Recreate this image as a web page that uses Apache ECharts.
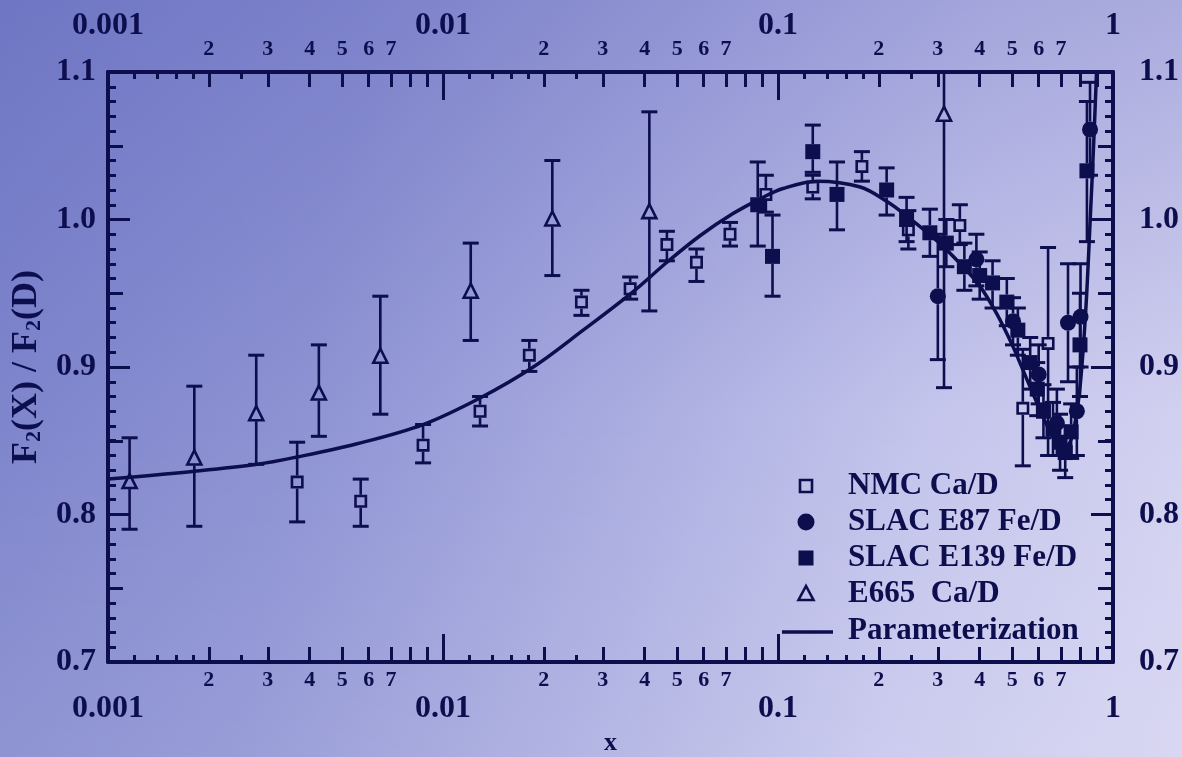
<!DOCTYPE html>
<html>
<head>
<meta charset="utf-8">
<script src="https://cdn.jsdelivr.net/npm/echarts@6/dist/echarts.min.js"></script>
<style>
  html, body { margin: 0; padding: 0; width: 1182px; height: 757px; overflow: hidden; }
  body {
    background:
      linear-gradient(180deg, rgba(80,86,178,0.28) 0%, rgba(80,86,178,0.0) 55%, rgba(255,255,255,0.10) 100%),
      linear-gradient(100deg, #7b82ca 0%, #8d92d3 28%, #a8abdf 52%, #c4c5ec 76%, #d5d3f1 100%);
  }
  #chart { width: 1182px; height: 757px; }
</style>
</head>
<body>
<div id="chart"></div>
<script>
// ---- data: [x, ratio, lower error, upper error] ----
const nmcCaD = [
  [0.00367, 0.822, 0.795, 0.849],
  [0.00568, 0.809, 0.792, 0.824],
  [0.00872, 0.847, 0.835, 0.861],
  [0.0129, 0.870, 0.860, 0.880],
  [0.0181, 0.908, 0.897, 0.918],
  [0.0259, 0.944, 0.935, 0.952],
  [0.0362, 0.953, 0.946, 0.961],
  [0.0466, 0.983, 0.972, 0.992],
  [0.0571, 0.971, 0.958, 0.980],
  [0.0719, 0.990, 0.982, 0.998],
  [0.092, 1.017, 1.005, 1.030],
  [0.127, 1.022, 1.014, 1.030],
  [0.178, 1.036, 1.026, 1.046],
  [0.245, 0.993, 0.980, 1.006],
  [0.349, 0.996, 0.983, 1.010],
  [0.538, 0.872, 0.833, 0.912],
  [0.640, 0.916, 0.840, 0.981]
];

const slacE87FeD = [
  [0.300, 0.948, 0.905, 0.990],
  [0.391, 0.973, 0.955, 0.990],
  [0.503, 0.931, 0.915, 0.947],
  [0.600, 0.895, 0.875, 0.915],
  [0.680, 0.862, 0.840, 0.885],
  [0.734, 0.930, 0.890, 0.970],
  [0.780, 0.870, 0.840, 0.900],
  [0.800, 0.934, 0.900, 0.970],
  [0.854, 1.061, 1.030, 1.093]
];

const slacE139FeD = [
  [0.087, 1.010, 0.982, 1.039],
  [0.0963, 0.975, 0.948, 1.003],
  [0.127, 1.046, 1.032, 1.064],
  [0.150, 1.017, 0.993, 1.039],
  [0.211, 1.020, 1.003, 1.035],
  [0.242, 1.000, 0.985, 1.015],
  [0.284, 0.991, 0.975, 1.007],
  [0.318, 0.984, 0.968, 1.000],
  [0.360, 0.968, 0.952, 0.984],
  [0.400, 0.962, 0.946, 0.978],
  [0.437, 0.957, 0.940, 0.972],
  [0.482, 0.944, 0.928, 0.960],
  [0.520, 0.925, 0.908, 0.940],
  [0.566, 0.903, 0.885, 0.920],
  [0.594, 0.885, 0.867, 0.903],
  [0.620, 0.870, 0.852, 0.888],
  [0.662, 0.858, 0.840, 0.876],
  [0.695, 0.849, 0.830, 0.868],
  [0.720, 0.842, 0.825, 0.860],
  [0.750, 0.856, 0.838, 0.875],
  [0.797, 0.915, 0.880, 0.950],
  [0.836, 1.033, 0.985, 1.080]
];

const e665CaD = [
  [0.00116, 0.822, 0.790, 0.852],
  [0.00181, 0.838, 0.792, 0.887],
  [0.00277, 0.868, 0.834, 0.908],
  [0.00426, 0.882, 0.853, 0.915],
  [0.00650, 0.907, 0.868, 0.948],
  [0.0121, 0.951, 0.918, 0.984],
  [0.0212, 1.000, 0.962, 1.040],
  [0.0413, 1.005, 0.938, 1.073],
  [0.313, 1.071, 0.886, 1.160]
];

// parameterization curve [x, ratio]
const parameterization = [
  [0.001, 0.824], [0.00176, 0.829], [0.00279, 0.834], [0.00367, 0.839],
  [0.00554, 0.848], [0.00872, 0.861], [0.0129, 0.879], [0.0186, 0.900],
  [0.0262, 0.925], [0.0369, 0.951], [0.0466, 0.971], [0.0585, 0.989],
  [0.0734, 1.004], [0.0884, 1.014], [0.1035, 1.021], [0.131, 1.026],
  [0.176, 1.022], [0.212, 1.012], [0.237, 1.004], [0.30, 0.985],
  [0.35, 0.970], [0.40, 0.955], [0.45, 0.936], [0.50, 0.915],
  [0.55, 0.893], [0.60, 0.873], [0.65, 0.856], [0.70, 0.846],
  [0.74, 0.848], [0.77, 0.862], [0.80, 0.890], [0.83, 0.940],
  [0.855, 1.000], [0.875, 1.050], [0.893, 1.100]
];

// ---- axis tick labels ----
const decadeStarts = [0.001, 0.01, 0.1];
const digitLabels = [2, 3, 4, 5, 6, 7];
const digitTicks = [2, 3, 4, 5, 6, 7, 8, 9];
const fineTicks = [1.2, 1.4, 1.6, 1.8, 2.5];
const yMin = 0.7, yMax = 1.1;

const INK = '#0d0e4e';
const SERIF = '"Liberation Serif", "Times New Roman", serif';

const logPositions = (mults) =>
  decadeStarts.flatMap(d => mults.map(m => Math.log10(m * d)));

const digitTickPos = logPositions(digitTicks);
const digitLabelPos = logPositions(digitLabels);
const fineTickPos = logPositions(fineTicks);

const digitFormatter = v => String(Math.round(Math.pow(10, v - Math.floor(v + 1e-9))));
const decadeFormatter = v => String(Number(v.toPrecision(3)));

// ---- marker drawing with error bars ----
const HALF = { openSquare: 6.5, filledSquare: 7.5, circle: 8, triangle: 7 };

function renderPoint(shape) {
  return function (params, api) {
    const x = api.value(0), y = api.value(1), lo = api.value(2), hi = api.value(3);
    const c = api.coord([x, y]);
    const pLo = api.coord([x, lo]);
    const pHi = api.coord([x, hi]);
    const cs = params.coordSys;
    const top = cs.y, bottom = cs.y + cs.height;
    const h = HALF[shape];
    const cap = 8;
    const lineStyle = { stroke: INK, lineWidth: 2.6 };
    let yHi = pHi[1], yLo = pLo[1];
    const hiClip = yHi < top, loClip = yLo > bottom;
    if (hiClip) yHi = top;
    if (loClip) yLo = bottom;
    const children = [];
    if (yHi < c[1] - h) {
      children.push({ type: 'line', shape: { x1: c[0], y1: yHi, x2: c[0], y2: c[1] - h }, style: lineStyle });
    }
    if (yLo > c[1] + h) {
      children.push({ type: 'line', shape: { x1: c[0], y1: c[1] + h, x2: c[0], y2: yLo }, style: lineStyle });
    }
    if (!hiClip) {
      children.push({ type: 'line', shape: { x1: c[0] - cap, y1: yHi, x2: c[0] + cap, y2: yHi }, style: { stroke: INK, lineWidth: 3 } });
    }
    if (!loClip) {
      children.push({ type: 'line', shape: { x1: c[0] - cap, y1: yLo, x2: c[0] + cap, y2: yLo }, style: { stroke: INK, lineWidth: 3 } });
    }
    if (shape === 'openSquare') {
      children.push({ type: 'rect', shape: { x: c[0] - h + 1.3, y: c[1] - h + 1.3, width: 2 * h - 2.6, height: 2 * h - 2.6 },
        style: { fill: 'none', stroke: INK, lineWidth: 2.6 } });
    } else if (shape === 'filledSquare') {
      children.push({ type: 'rect', shape: { x: c[0] - h, y: c[1] - h, width: 2 * h, height: 2 * h }, style: { fill: INK } });
    } else if (shape === 'circle') {
      children.push({ type: 'circle', shape: { cx: c[0], cy: c[1], r: h }, style: { fill: INK } });
    } else if (shape === 'triangle') {
      children.push({ type: 'polygon', shape: { points: [[c[0], c[1] - h - 1], [c[0] - h, c[1] + h - 1], [c[0] + h, c[1] + h - 1]] },
        style: { fill: 'none', stroke: INK, lineWidth: 2.6, lineJoin: 'miter' } });
    }
    return { type: 'group', children };
  };
}

function pointSeries(name, data, shape) {
  return {
    name, type: 'custom', xAxisIndex: 0, yAxisIndex: 0,
    renderItem: renderPoint(shape),
    encode: { x: 0, y: [1, 2, 3] },
    data, z: 3, silent: true, animation: false
  };
}

// ---- axes ----
const labelFont = { fontFamily: SERIF, fontWeight: 'bold', color: INK };

function decadeAxis(position, margin) {
  return {
    type: 'log', logBase: 10, min: 0.001, max: 1, position,
    axisLine: { show: true, onZero: false, lineStyle: { color: INK, width: 4 } },
    axisTick: { show: true, inside: true, length: 28, lineStyle: { color: INK, width: 3 } },
    axisLabel: { ...labelFont, fontSize: 32, margin, formatter: decadeFormatter, showMinLabel: true, showMaxLabel: true },
    splitLine: { show: false }, minorTick: { show: false }, minorSplitLine: { show: false }
  };
}

function digitAxis(position, margin) {
  return {
    type: 'value', min: -3, max: 0, position,
    axisLine: { show: false, onZero: false },
    axisTick: { show: true, inside: true, length: 15, customValues: digitTickPos, lineStyle: { color: INK, width: 3 } },
    axisLabel: { ...labelFont, fontSize: 22, margin, customValues: digitLabelPos, formatter: digitFormatter },
    splitLine: { show: false }
  };
}

function fineAxis(position) {
  return {
    type: 'value', min: -3, max: 0, position,
    axisLine: { show: false, onZero: false },
    axisTick: { show: true, inside: true, length: 7, customValues: fineTickPos, lineStyle: { color: INK, width: 3 } },
    axisLabel: { show: false },
    splitLine: { show: false }
  };
}

function ratioAxis(position, margin) {
  return {
    type: 'value', min: yMin, max: yMax, interval: 0.1, position,
    axisLine: { show: true, onZero: false, lineStyle: { color: INK, width: 4 } },
    axisTick: { show: true, inside: true, length: 22, lineStyle: { color: INK, width: 3 } },
    minorTick: { show: true, splitNumber: 10, length: 8, lineStyle: { color: INK, width: 3 } },
    axisLabel: { ...labelFont, fontSize: 32, margin, formatter: v => v.toFixed(1), showMinLabel: true, showMaxLabel: true },
    splitLine: { show: false }, minorSplitLine: { show: false }
  };
}

function halfStepAxis(position) {
  return {
    type: 'value', min: yMin, max: yMax, interval: 0.05, position,
    axisLine: { show: false, onZero: false },
    axisTick: { show: true, inside: true, length: 15, lineStyle: { color: INK, width: 3 } },
    axisLabel: { show: false },
    splitLine: { show: false }
  };
}

const bottomDecade = decadeAxis('bottom', 31);
bottomDecade.name = 'x';
bottomDecade.nameLocation = 'middle';
bottomDecade.nameGap = 66;
bottomDecade.nameTextStyle = { ...labelFont, fontSize: 26 };

const leftRatio = ratioAxis('left', 12);
leftRatio.name = 'F{s|2}(X) / F{s|2}(D)';
leftRatio.nameLocation = 'middle';
leftRatio.nameGap = 60;
leftRatio.nameTextStyle = {
  ...labelFont, fontSize: 36,
  rich: { s: { fontFamily: SERIF, fontWeight: 'bold', color: INK, fontSize: 22, verticalAlign: 'bottom', padding: [13, 0, 0, 0] } }
};

const option = {
  animation: false,
  backgroundColor: 'transparent',
  grid: { left: 108, right: 69, top: 72, bottom: 95, containLabel: false, outerBoundsMode: 'none' },
  xAxis: [
    bottomDecade,
    digitAxis('bottom', 7),
    fineAxis('bottom'),
    decadeAxis('top', 30),
    digitAxis('top', 12),
    fineAxis('top')
  ],
  yAxis: [
    leftRatio,
    halfStepAxis('left'),
    ratioAxis('right', 26),
    halfStepAxis('right')
  ],
  series: [
    {
      name: 'Parameterization', type: 'line', xAxisIndex: 0, yAxisIndex: 0,
      data: parameterization, showSymbol: false, symbol: 'none',
      smooth: 0.35, lineStyle: { color: INK, width: 3.5 }, z: 2, silent: true, animation: false
    },
    pointSeries('E665  Ca/D', e665CaD, 'triangle'),
    pointSeries('NMC Ca/D', nmcCaD, 'openSquare'),
    pointSeries('SLAC E139 Fe/D', slacE139FeD, 'filledSquare'),
    pointSeries('SLAC E87 Fe/D', slacE87FeD, 'circle')
  ],
  graphic: []
};

// ---- legend key ----
const legendRows = [
  { text: 'NMC Ca/D', y: 486, mark: 'openSquare' },
  { text: 'SLAC E87 Fe/D', y: 522, mark: 'circle' },
  { text: 'SLAC E139 Fe/D', y: 558, mark: 'filledSquare' },
  { text: 'E665  Ca/D', y: 594, mark: 'triangle' },
  { text: 'Parameterization', y: 631, mark: 'line' }
];
const keyX = 806, textX = 848;
legendRows.forEach(r => {
  let el;
  if (r.mark === 'openSquare') {
    el = { type: 'rect', shape: { x: keyX - 6, y: r.y - 6, width: 12, height: 12 }, style: { fill: 'none', stroke: INK, lineWidth: 2.6 } };
  } else if (r.mark === 'circle') {
    el = { type: 'circle', shape: { cx: keyX, cy: r.y, r: 8.5 }, style: { fill: INK } };
  } else if (r.mark === 'filledSquare') {
    el = { type: 'rect', shape: { x: keyX - 7.5, y: r.y - 7.5, width: 15, height: 15 }, style: { fill: INK } };
  } else if (r.mark === 'triangle') {
    el = { type: 'polygon', shape: { points: [[keyX, r.y - 8], [keyX - 7.5, r.y + 6], [keyX + 7.5, r.y + 6]] }, style: { fill: 'none', stroke: INK, lineWidth: 2.6 } };
  } else {
    el = { type: 'line', shape: { x1: 782, y1: r.y + 1, x2: 833, y2: r.y + 1 }, style: { stroke: INK, lineWidth: 3.5 } };
  }
  option.graphic.push(el);
  option.graphic.push({
    type: 'text', x: textX, y: r.y,
    style: { text: r.text, fill: INK, font: 'bold 31px ' + SERIF, verticalAlign: 'middle', textAlign: 'left' }
  });
});

const chart = echarts.init(document.getElementById('chart'), null, { renderer: 'canvas' });
chart.setOption(option);
</script>
</body>
</html>
